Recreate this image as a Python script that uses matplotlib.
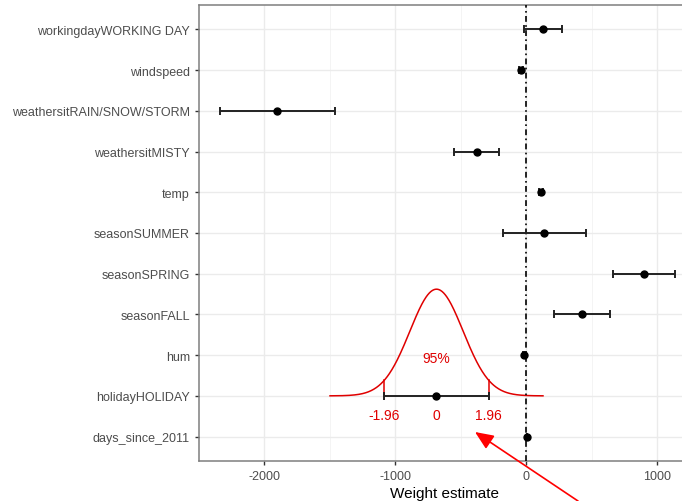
"""
Coefficient plot of the linear bike-rental model with a normal
curve drawn over one term to show how the 95% interval is built.
"""

import matplotlib
matplotlib.use("Agg")
import matplotlib.pyplot as plt
import numpy as np

plt.rcParams["font.family"] = ["Liberation Sans", "DejaVu Sans"]

# terms listed bottom to top
terms = [
    "days_since_2011",
    "holidayHOLIDAY",
    "hum",
    "seasonFALL",
    "seasonSPRING",
    "seasonSUMMER",
    "temp",
    "weathersitMISTY",
    "weathersitRAIN/SNOW/STORM",
    "windspeed",
    "workingdayWORKING DAY",
]
estimate = [4.9, -686.1, -17.4, 425.6, 899.3, 138.2, 110.7, -379.4, -1901.5, -42.5, 124.9]
lower = [4.5, -1084.6, -23.7, 208.4, 659.6, -178.7, 97.0, -551.1, -2339.8, -56.0, -18.8]
upper = [5.3, -287.6, -11.1, 642.8, 1139.0, 455.1, 124.4, -207.7, -1463.2, -29.0, 268.6]

# term that gets the normal-curve annotation
focus = "holidayHOLIDAY"
z_labels = ["-1.96", "0", "1.96"]
z_values = [-1.96, 0.0, 1.96]
coverage_label = "95%"

RED = "#e00000"

fig = plt.figure(figsize=(6.82, 5.02), dpi=100)
ax = fig.add_axes([199 / 682, 40 / 502, 491 / 682, 456 / 502])

ypos = np.arange(1, len(terms) + 1)
est = np.array(estimate)
lo = np.array(lower)
hi = np.array(upper)

# grid like theme_bw
for v in (-2000, -1000, 0, 1000):
    ax.axvline(v, color="#ebebeb", lw=1.0, zorder=0)
for v in (-1500, -500, 500):
    ax.axvline(v, color="#f2f2f2", lw=0.6, zorder=0)
for y in ypos:
    ax.axhline(y, color="#ebebeb", lw=1.0, zorder=0)

# normal density over the focus term
i = terms.index(focus)
se = (hi[i] - est[i]) / 1.96
z = np.linspace(-4, 4, 400)
curve_height = 2.62
dens = np.exp(-z ** 2 / 2)
ax.plot(est[i] + z * se, ypos[i] + curve_height * dens, color=RED, lw=1.1, zorder=2)
for zv in (-1.96, 1.96):
    ax.plot([est[i] + zv * se] * 2,
            [ypos[i], ypos[i] + curve_height * np.exp(-zv ** 2 / 2)],
            color=RED, lw=1.1, zorder=2)
ax.text(est[i], ypos[i] + 0.93, coverage_label, color=RED, fontsize=10,
        ha="center", va="center")
for lab, zv in zip(z_labels, z_values):
    ax.text(est[i] + zv * se, ypos[i] - 0.47, lab, color=RED, fontsize=10,
            ha="center", va="center")

# reference line at zero
ax.axvline(0, color="black", lw=1.2, linestyle=(0, (3.5, 2, 1, 2)), zorder=3)

# estimates with 95% intervals
ax.errorbar(est, ypos, xerr=[est - lo, hi - est], fmt="o", color="black",
            ms=5, lw=1.4, capsize=3, capthick=1.4, ecolor="#222222", zorder=4)

ax.set_xlim(-2500, 1250)
ax.set_ylim(0.4, 11.6)
ax.set_yticks(ypos)
ax.set_yticklabels(terms)
ax.set_xticks([-2000, -1000, 0, 1000])
ax.set_xticklabels(["-2000", "-1000", "0", "1000"])
ax.tick_params(colors="#333333", labelcolor="#4d4d4d", labelsize=9, length=3, width=1)
ax.set_xlabel("Weight estimate", fontsize=11, labelpad=3)
for s in ax.spines.values():
    s.set_color("#7f7f7f")
    s.set_linewidth(1.1)

# pointer from outside the panel
fig.patches.append(matplotlib.patches.FancyArrowPatch(
    (578 / 682, 0.0), (475 / 682, 1 - 433 / 502),
    transform=fig.transFigure, arrowstyle="-|>,head_length=7,head_width=3",
    color="red", lw=1.2, mutation_scale=1.6, shrinkA=0, shrinkB=0))

fig.savefig("out.png", dpi=100)
